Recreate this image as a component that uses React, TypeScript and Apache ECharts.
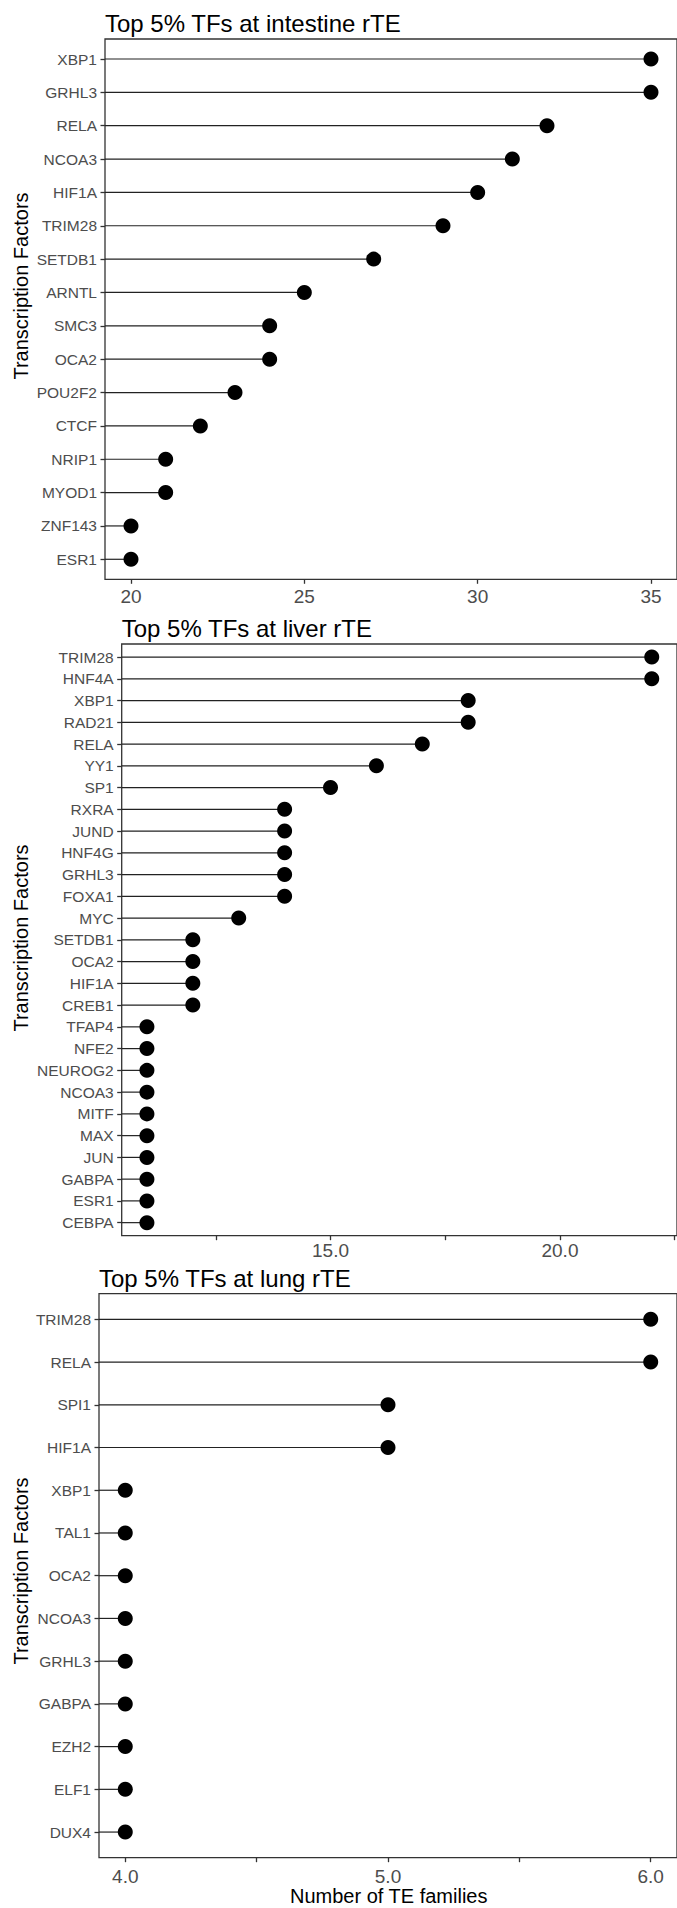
import React, { useEffect, useRef } from "react";
import * as echarts from "echarts";

// ---------- data ----------
const intestineTFs = ["XBP1", "GRHL3", "RELA", "NCOA3", "HIF1A", "TRIM28", "SETDB1", "ARNTL", "SMC3", "OCA2", "POU2F2", "CTCF", "NRIP1", "MYOD1", "ZNF143", "ESR1"];
const intestineCounts = [35, 35, 32, 31, 30, 29, 27, 25, 24, 24, 23, 22, 21, 21, 20, 20];
const intestineXTicks = [20, 25, 30, 35];
const intestineXLabels = [20, 25, 30, 35];

const liverTFs = ["TRIM28", "HNF4A", "XBP1", "RAD21", "RELA", "YY1", "SP1", "RXRA", "JUND", "HNF4G", "GRHL3", "FOXA1", "MYC", "SETDB1", "OCA2", "HIF1A", "CREB1", "TFAP4", "NFE2", "NEUROG2", "NCOA3", "MITF", "MAX", "JUN", "GABPA", "ESR1", "CEBPA"];
const liverCounts = [22, 22, 18, 18, 17, 16, 15, 14, 14, 14, 14, 14, 13, 12, 12, 12, 12, 11, 11, 11, 11, 11, 11, 11, 11, 11, 11];
const liverXTicks = [12.5, 15, 17.5, 20, 22.5];
const liverXLabels = [15, 20];

const lungTFs = ["TRIM28", "RELA", "SPI1", "HIF1A", "XBP1", "TAL1", "OCA2", "NCOA3", "GRHL3", "GABPA", "EZH2", "ELF1", "DUX4"];
const lungCounts = [6, 6, 5, 5, 4, 4, 4, 4, 4, 4, 4, 4, 4];
const lungXTicks = [4, 4.5, 5, 5.5, 6];
const lungXLabels = [4, 5, 6];

const panelTitles = ["Top 5% TFs at intestine rTE", "Top 5% TFs at liver rTE", "Top 5% TFs at lung rTE"];
const yTitle = "Transcription Factors";
const xTitle = "Number of TE families";

// ---------- layout / style ----------
const FONT = "'Liberation Sans', Arial, Helvetica, sans-serif";
const W = 677;
const H = 1908;
const RIGHT_EDGE = 678.5;
const layouts = [
  { left: 105, top: 39, bottom: 579.3, labelGap: 17, titleY: 23.8, yTitleY: 286, decimals: 0 },
  { left: 121.7, top: 644, bottom: 1235.7, labelGap: 15, titleY: 628.8, yTitleY: 938, decimals: 1 },
  { left: 99, top: 1293.7, bottom: 1857.7, labelGap: 19, titleY: 1278.5, yTitleY: 1571, decimals: 1 },
];

const panels = [
  { names: intestineTFs, counts: intestineCounts, ticks: intestineXTicks, labels: intestineXLabels },
  { names: liverTFs, counts: liverCounts, ticks: liverXTicks, labels: liverXLabels },
  { names: lungTFs, counts: lungCounts, ticks: lungXTicks, labels: lungXLabels },
];

function buildOption() {
  const grid: any[] = [];
  const xAxis: any[] = [];
  const yAxis: any[] = [];
  const series: any[] = [];
  const graphic: any[] = [];

  panels.forEach((p, i) => {
    const L = layouts[i];
    const dmin = Math.min(...p.counts);
    const dmax = Math.max(...p.counts);
    const pad = (dmax - dmin) * 0.05;
    const xmin = dmin - pad;
    const xmax = dmax + pad;
    const n = p.names.length;

    grid.push({
      left: L.left,
      top: L.top,
      width: RIGHT_EDGE - L.left,
      height: L.bottom - L.top,
      show: true,
      borderColor: "#333333",
      borderWidth: 1.3,
      backgroundColor: "transparent",
      containLabel: false,
    });

    xAxis.push({
      type: "value",
      gridIndex: i,
      min: xmin,
      max: xmax,
      splitLine: { show: false },
      axisLine: { show: false },
      axisTick: {
        show: true,
        length: 4.5,
        customValues: p.ticks,
        lineStyle: { color: "#333333", width: 1.3 },
      },
      axisLabel: {
        show: true,
        customValues: p.labels,
        formatter: (v: number) => v.toFixed(L.decimals),
        fontFamily: FONT,
        fontSize: 19,
        color: "#4D4D4D",
        margin: L.labelGap,
        verticalAlign: "middle",
      },
    });

    const yTicks = p.names.map((_, k) => k + 1);
    yAxis.push({
      type: "value",
      gridIndex: i,
      inverse: true,
      min: 0.4,
      max: n + 0.6,
      splitLine: { show: false },
      axisLine: { show: false },
      axisTick: {
        show: true,
        length: 4.5,
        customValues: yTicks,
        lineStyle: { color: "#333333", width: 1.3 },
      },
      axisLabel: {
        show: true,
        customValues: yTicks,
        formatter: (v: number) => p.names[Math.round(v) - 1] ?? "",
        fontFamily: FONT,
        fontSize: 15.5,
        color: "#4D4D4D",
        margin: 8,
      },
    });

    const data = p.counts.map((c, k) => [c, k + 1]);

    series.push({
      type: "custom",
      xAxisIndex: i,
      yAxisIndex: i,
      coordinateSystem: "cartesian2d",
      encode: { x: 0, y: 1 },
      data,
      silent: true,
      renderItem: (params: any, api: any) => {
        const yv = api.value(1);
        const xv = api.value(0);
        const p0 = api.coord([xmin, yv]);
        const p1 = api.coord([xv, yv]);
        return {
          type: "line",
          shape: { x1: p0[0], y1: p0[1], x2: p1[0], y2: p1[1] },
          style: { stroke: "#222222", lineWidth: 1.2 },
        };
      },
      z: 2,
    });

    series.push({
      type: "scatter",
      xAxisIndex: i,
      yAxisIndex: i,
      data,
      symbol: "circle",
      symbolSize: 15,
      itemStyle: { color: "#000000", opacity: 1 },
      silent: true,
      z: 3,
    });

    graphic.push({
      type: "text",
      x: L.left,
      y: L.titleY,
      style: {
        text: panelTitles[i],
        fontFamily: FONT,
        fontSize: 24,
        fill: "#000000",
        align: "left",
        verticalAlign: "middle",
      },
    });

    graphic.push({
      type: "text",
      x: 21,
      y: L.yTitleY,
      rotation: Math.PI / 2,
      style: {
        text: yTitle,
        fontFamily: FONT,
        fontSize: 20,
        fill: "#000000",
        align: "center",
        verticalAlign: "middle",
      },
    });
  });

  const last = layouts[2];
  graphic.push({
    type: "text",
    x: (last.left + RIGHT_EDGE) / 2,
    y: 1896,
    style: {
      text: xTitle,
      fontFamily: FONT,
      fontSize: 20,
      fill: "#000000",
      align: "center",
      verticalAlign: "middle",
    },
  });

  return {
    animation: false,
    backgroundColor: "#ffffff",
    textStyle: { fontFamily: FONT },
    grid,
    xAxis,
    yAxis,
    series,
    graphic,
  };
}

export default function App() {
  const ref = useRef<HTMLDivElement | null>(null);
  useEffect(() => {
    if (!ref.current) return;
    const chart = echarts.init(ref.current, undefined, { renderer: "svg" });
    chart.setOption(buildOption() as any);
    return () => {
      chart.dispose();
    };
  }, []);
  return (
    <div
      ref={ref}
      style={{ position: "absolute", left: 0, top: 0, width: W, height: H, background: "#ffffff" }}
    />
  );
}
